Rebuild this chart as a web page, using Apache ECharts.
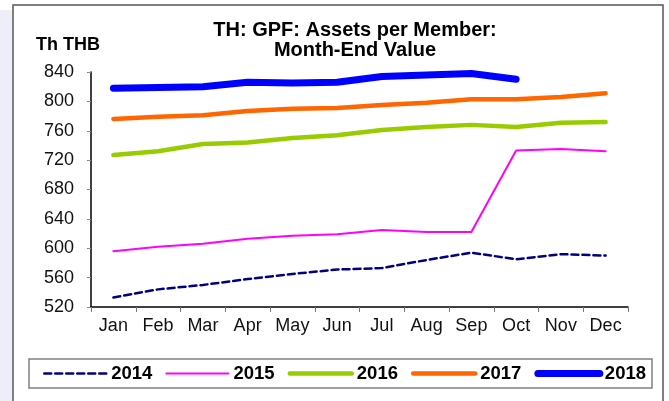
<!DOCTYPE html>
<html>
<head>
<meta charset="utf-8">
<script src="https://cdn.jsdelivr.net/npm/echarts@6/dist/echarts.min.js"></script>
<style>
  html, body { margin: 0; padding: 0; background: #fff; }
  #chart { width: 669px; height: 401px; }
</style>
</head>
<body>
<div id="chart"></div>
<script>
// month-end assets per member, Th THB
const months = ['Jan', 'Feb', 'Mar', 'Apr', 'May', 'Jun', 'Jul', 'Aug', 'Sep', 'Oct', 'Nov', 'Dec']
const y2014 = [533, 544, 550, 558, 565, 571, 573, 584, 594, 585, 592, 590]
const y2015 = [596, 602, 606, 613, 617, 619, 625, 622, 622, 733, 735, 732]
const y2016 = [727, 732, 742, 744, 750, 754, 761, 765, 768, 765, 771, 772]
const y2017 = [776, 779, 781, 787, 790, 791, 795, 798, 803, 803, 806, 811]
const y2018 = [818, 819, 820, 826, 825, 826, 834, 836, 838, 830]
const yTicks = { min: 520, max: 840, step: 40 }

const font = 'Liberation Sans, Arial, sans-serif'

function lineSeries(name, data, color, width, type) {
  return {
    name: name,
    type: 'line',
    data: data,
    symbol: 'none',
    smooth: false,
    lineStyle: { color: color, width: width, type: type || 'solid', cap: 'round', join: 'round' },
    itemStyle: { color: color },
    emphasis: { disabled: true }
  }
}

const chart = echarts.init(document.getElementById('chart'))

chart.setOption({
  animation: false,
  backgroundColor: '#fff',
  graphic: [
    { type: 'rect', silent: true, z: -10, shape: { x: 0, y: 10, width: 12, height: 391 }, style: { fill: '#eeeef8' } },
    { type: 'rect', silent: true, z: -9, shape: { x: 13, y: 5, width: 650, height: 420 }, style: { fill: '#fff', stroke: '#555', lineWidth: 1.5 } },
    { type: 'rect', silent: true, z: -8, shape: { x: 29, y: 359, width: 623, height: 29 }, style: { fill: 'none', stroke: '#808080', lineWidth: 1.5 } },
    { type: 'text', silent: true, x: 355, y: 30, style: { text: 'TH: GPF: Assets per Member:', font: 'bold 20px ' + font, fill: '#000', align: 'center', verticalAlign: 'middle' } },
    { type: 'text', silent: true, x: 355, y: 50, style: { text: 'Month-End Value', font: 'bold 20px ' + font, fill: '#000', align: 'center', verticalAlign: 'middle' } },
    { type: 'text', silent: true, x: 36, y: 45, style: { text: 'Th THB', font: 'bold 18px ' + font, fill: '#000', align: 'left', verticalAlign: 'middle' } }
  ],
  legend: {
    left: 43,
    top: 364,
    padding: 0,
    itemWidth: 62,
    itemHeight: 10,
    itemGap: 13,
    itemStyle: { opacity: 0 },
    lineStyle: { width: 'inherit', type: 'inherit', cap: 'round' },
    textStyle: { fontFamily: font, fontWeight: 'bold', fontSize: 18.5, color: '#000' },
    data: ['2014', '2015', '2016', '2017', '2018']
  },
  grid: { left: 91, right: 41, top: 72, bottom: 94, containLabel: false },
  xAxis: {
    type: 'category',
    data: months,
    boundaryGap: true,
    axisLine: { lineStyle: { color: '#000', width: 1.5 } },
    axisTick: { show: true, length: 5, lineStyle: { color: '#777' } },
    axisLabel: { fontFamily: font, fontSize: 18, color: '#111', margin: 10 },
    splitLine: { show: false }
  },
  yAxis: {
    type: 'value',
    min: yTicks.min,
    max: yTicks.max,
    interval: yTicks.step,
    axisLine: { show: true, lineStyle: { color: '#000', width: 1.5 } },
    axisTick: { show: true, length: 4, lineStyle: { color: '#888' } },
    axisLabel: { fontFamily: font, fontSize: 18, color: '#111', margin: 17 },
    splitLine: { show: false }
  },
  series: [
    lineSeries('2014', y2014, '#000080', 2.5, [7, 4]),
    lineSeries('2015', y2015, '#ff00ff', 2),
    lineSeries('2016', y2016, '#99cc00', 4.5),
    lineSeries('2017', y2017, '#ff6600', 4.5),
    lineSeries('2018', y2018, '#0000ff', 7)
  ]
})

window.addEventListener('resize', function () {
  chart.resize()
})
</script>
</body>
</html>
